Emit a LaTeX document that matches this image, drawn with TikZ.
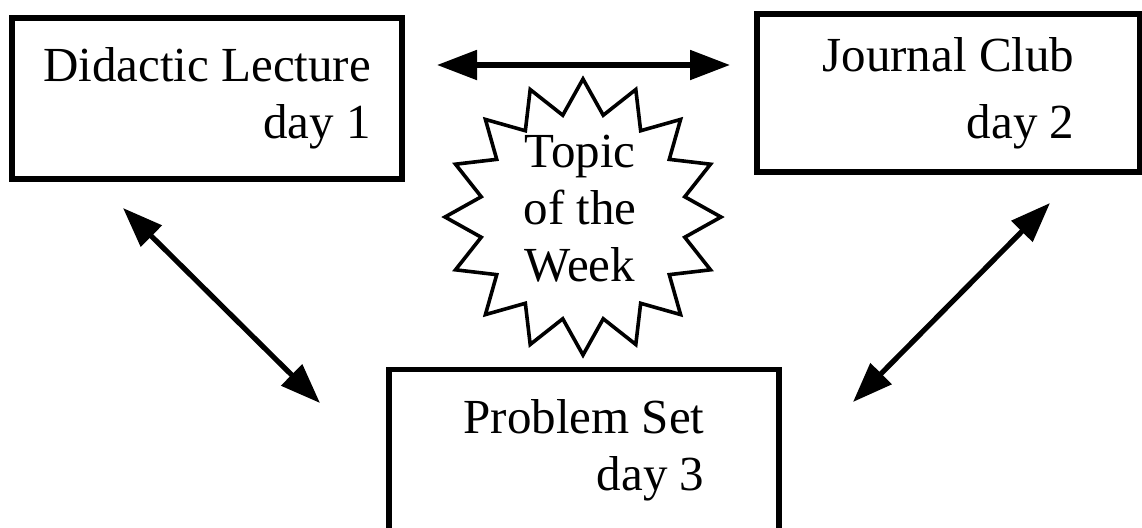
\documentclass[tikz,border=0pt]{standalone}
\usepackage{fontspec}
\setmainfont{Liberation Serif}
\usetikzlibrary{arrows.meta,shapes.geometric}

\begin{document}
\begin{tikzpicture}[x=0.5pt, y=-0.5pt,
    daybox/.style={draw, rectangle, line width=2.8pt, align=right, inner sep=0pt,
      minimum width=195pt, minimum height=80.5pt,
      font=\fontsize{24.5pt}{28.5pt}\selectfont},
    daylink/.style={line width=2.6pt,
      {Triangle[length=20pt,width=14.5pt]}-{Triangle[length=20pt,width=14.5pt]}},
    burst/.style={star, star points=16, star point ratio=1.33, draw,
      line width=1.8pt, minimum size=138pt, inner sep=0pt}]
    % pagina fissa, come l'originale
    \useasboundingbox (0,0) rectangle (1142,527);
    \clip (0,0) rectangle (1142,527);

    % Le tre attivita' della settimana
    \node[daybox] (lecture) at (207,98.5) {Didactic Lecture\\day 1};
    \node[daybox, minimum width=191.5pt, minimum height=79pt] (club) at (948.5,93) {Journal Club\\[5pt]day 2};
    \node[daybox] (problems) at (584,450) {Problem Set\\day 3};

    % Stella centrale
    \node[burst] (star) at (583,217) {};
    \node[font=\fontsize{24.5pt}{28.5pt}\selectfont, align=center, inner sep=0pt] (topic) at (580,209) {Topic\\of the\\Week};

    % Estremi delle frecce (non toccano i riquadri)
    \coordinate (lc) at (437,65);
    \coordinate (cl) at (730,65);
    \coordinate (lp) at (123,208);
    \coordinate (pl) at (320,403);
    \coordinate (cp) at (1050,203);
    \coordinate (pc) at (853,402);

    % Frecce doppie
    \draw[daylink] (lc) -- (cl);
    \draw[daylink] (lp) -- (pl);
    \draw[daylink] (cp) -- (pc);
\end{tikzpicture}
\end{document}
